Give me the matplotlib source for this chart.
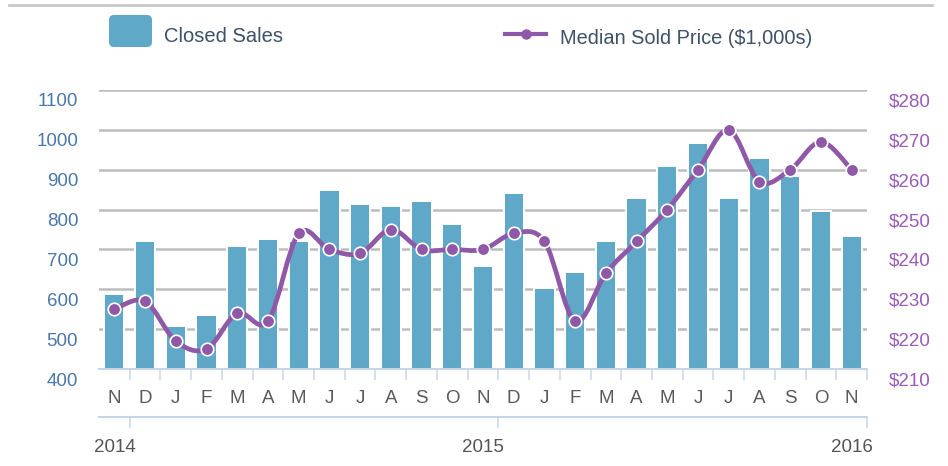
import numpy as np
import matplotlib
matplotlib.use('Agg')
import matplotlib.pyplot as plt
from matplotlib.path import Path
from matplotlib.patches import PathPatch, FancyBboxPatch
from matplotlib.lines import Line2D
from matplotlib.transforms import ScaledTranslation

# data
months = ['N', 'D', 'J', 'F', 'M', 'A', 'M', 'J', 'J', 'A', 'S', 'O',
          'N', 'D', 'J', 'F', 'M', 'A', 'M', 'J', 'J', 'A', 'S', 'O', 'N']
closed_sales = [589, 721, 509, 535, 709, 727, 721, 849, 815, 808, 822, 764,
                658, 842, 602, 643, 721, 829, 909, 968, 829, 929, 883, 796, 733]
median_price = [225, 227, 217, 215, 224, 222, 244, 240, 239, 245, 240, 240,
                240, 244, 242, 222, 234, 242, 250, 260, 270, 257, 260, 267, 260]
sales_ticks = [400, 500, 600, 700, 800, 900, 1000, 1100]
price_ticks = [210, 220, 230, 240, 250, 260, 270, 280]
year_labels = ['2014', '2015', '2016']
year_ticks = [0.5, 12.5, 24.5]

bar_color = '#5fa8c8'
line_color = '#8f59a8'
axis_blue = '#c6d6e6'

plt.rcParams['font.family'] = ['Liberation Sans', 'DejaVu Sans']

W, H = 948, 466
fig = plt.figure(figsize=(W / 100, H / 100), dpi=100)
ax1 = fig.add_axes([99 / W, 1 - 369 / H, 768 / W, 279 / H])
ax2 = ax1.twinx()

x = np.arange(len(months))

# bars on the left scale
ax1.bar(x, closed_sales, width=0.66, color=bar_color, edgecolor='white',
        linewidth=1.4)
ax1.set_xlim(-0.5, len(months) - 0.5)
ax1.set_ylim(400, 1100)
ax1.set_yticks(sales_ticks)
ax1.yaxis.grid(True, color='#bdbdbd', linewidth=1.8)
ax1.set_axisbelow(True)

ax1.set_xticks(x, months)
ax1.set_xticks(np.arange(0.5, len(months), 1), minor=True)
ax1.tick_params(axis='x', which='major', length=0, pad=15, labelsize=13.5,
                labelcolor='#5a5a5a')
ax1.tick_params(axis='x', which='minor', length=8, width=1.1, color=axis_blue)
ax1.tick_params(axis='y', length=0, pad=15, labelsize=13.5, labelcolor='#4a77ab')

for side in ['top', 'left', 'right']:
    ax1.spines[side].set_visible(False)
ax1.spines['bottom'].set_color(axis_blue)
ax1.spines['bottom'].set_linewidth(1.5)


# smooth price line (Catmull-Rom through the points, as bezier path)
def smooth_path(xs, ys):
    pts = np.column_stack([xs, ys]).astype(float)
    ext = np.vstack([pts[0], pts, pts[-1]])
    verts = [pts[0]]
    codes = [Path.MOVETO]
    for i in range(len(pts) - 1):
        p0, p1, p2, p3 = ext[i], ext[i + 1], ext[i + 2], ext[i + 3]
        verts += [p1 + (p2 - p0) / 6, p2 - (p3 - p1) / 6, p2]
        codes += [Path.CURVE4] * 3
    return Path(verts, codes)


ax2.add_patch(PathPatch(smooth_path(x, median_price), fill=False,
                        edgecolor=line_color, linewidth=3.4,
                        capstyle='round', joinstyle='round'))
ax2.plot(x, median_price, 'o', ms=9, mfc=line_color, mec='white', mew=1.2)
ax2.set_ylim(210, 280)
ax2.set_yticks(price_ticks, ['\\$%d' % v for v in price_ticks])
ax2.tick_params(axis='y', length=0, pad=16, labelsize=13.5, labelcolor='#9b5bb8')
for side in ax2.spines:
    ax2.spines[side].set_visible(False)

# labels in the reference sit ~10px below their gridlines
shift = ScaledTranslation(0, -10 / 100, fig.dpi_scale_trans)
for t in ax1.yaxis.get_major_ticks() + ax2.yaxis.get_major_ticks():
    t.label1.set_transform(t.label1.get_transform() + shift)
    t.label2.set_transform(t.label2.get_transform() + shift)

# year axis below the months
sec = ax1.secondary_xaxis(-48 / 279)
sec.set_xticks(year_ticks, year_labels)
sec.tick_params(length=8, width=1.1, color=axis_blue, pad=8, labelsize=13.5,
                labelcolor='#555555')
sec.spines['bottom'].set_color(axis_blue)
sec.spines['bottom'].set_linewidth(1.5)
yshift = ScaledTranslation(-15 / 100, 0, fig.dpi_scale_trans)
for t in sec.xaxis.get_major_ticks():
    t.label1.set_transform(t.label1.get_transform() + yshift)

# top rule and legend
fig.add_artist(Line2D([9 / W, 932 / W], [1 - 5 / H] * 2, transform=fig.transFigure,
                      color='#c8c8c8', linewidth=2))
fig.add_artist(FancyBboxPatch((1.09, (H - 47) / 100), 0.43, 0.32,
                              boxstyle='round,pad=0,rounding_size=0.05',
                              transform=fig.dpi_scale_trans,
                              facecolor=bar_color, edgecolor='none'))
fig.text(164 / W, 1 - 37 / H, 'Closed Sales', ha='left', va='center',
         fontsize=14.5, color='#3e5168')
fig.add_artist(Line2D([505 / W, 546 / W], [1 - 34 / H] * 2, transform=fig.transFigure,
                      color=line_color, linewidth=3))
fig.add_artist(Line2D([526 / W], [1 - 34 / H], transform=fig.transFigure,
                      marker='o', ms=6.5, color=line_color))
fig.text(560 / W, 1 - 38 / H, 'Median Sold Price (\\$1,000s)', ha='left',
         va='center', fontsize=14.4, color='#3e5168')

fig.savefig('out.png', dpi=100)
